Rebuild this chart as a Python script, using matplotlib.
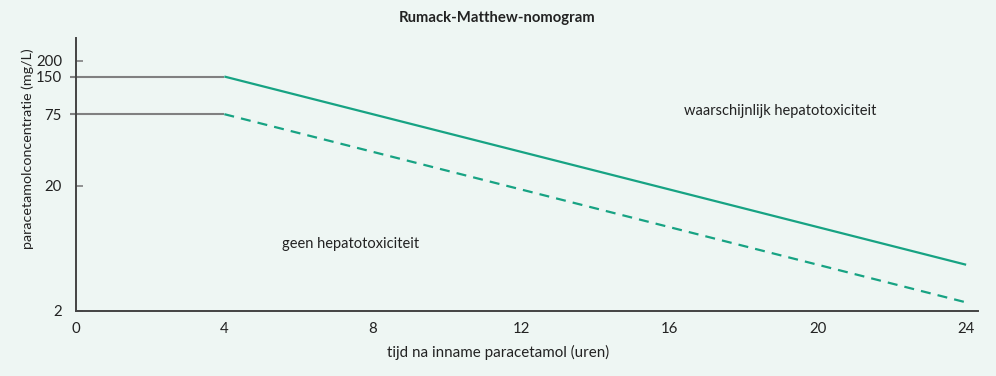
import matplotlib
matplotlib.use("Agg")
import matplotlib.pyplot as plt
import numpy as np

plt.rcParams['font.family'] = ['Lato', 'DejaVu Sans']

# data
hours_line = [4, 24]
high_line = [150, 4.6875]      # solid threshold (half-life 4 h)
low_line = [75, 2.34375]       # dashed threshold
plateau_x = [0, 4]
plateau_high = [150, 150]
plateau_low = [75, 75]
x_ticks = [0, 4, 8, 12, 16, 20, 24]
y_ticks = [2, 20, 75, 150, 200]

bg = '#eef6f3'
green = '#17a383'

fig = plt.figure(figsize=(9.96, 3.76), dpi=100, facecolor=bg)
ax = fig.add_axes([76/996, 1-311/376, (978-76)/996, (311-38)/376], facecolor=bg)
ax.set_yscale('log')
ax.set_xlim(0, 24.32)
ax.set_ylim(2, 305)

ax.plot(plateau_x, plateau_high, color='#808080', lw=1.5, solid_capstyle='butt')
ax.plot(plateau_x, plateau_low, color='#808080', lw=1.5, solid_capstyle='butt')
# small outward stubs at 150 and 75
ax.plot([-0.17, 0], [150, 150], color='#808080', lw=1.5, clip_on=False, solid_capstyle='butt')
ax.plot([-0.17, 0], [75, 75], color='#808080', lw=1.5, clip_on=False, solid_capstyle='butt')

ax.plot(hours_line, high_line, color=green, lw=1.6, solid_capstyle='butt')
ax.plot(hours_line, low_line, color=green, lw=1.6, dashes=(4.5, 3.2))

for s in ['top', 'right']:
    ax.spines[s].set_visible(False)
for s in ['left', 'bottom']:
    ax.spines[s].set_color('#444444')
    ax.spines[s].set_linewidth(1.4)

ax.set_xticks(x_ticks)
ax.set_xticklabels([str(v) for v in x_ticks])
ax.set_yticks(y_ticks)
ax.set_yticklabels([str(v) for v in y_ticks])
ax.yaxis.set_minor_locator(matplotlib.ticker.NullLocator())
ax.tick_params(axis='x', length=0, pad=8, labelsize=10.8, colors='#222222')
ax.tick_params(axis='y', direction='in', length=5, width=1.2, color='#808080',
               pad=10, labelsize=10.8, labelcolor='#222222')

fig.text(497/996, 1-18/376, 'Rumack-Matthew-nomogram', ha='center', va='center',
         fontsize=10.7, fontweight='bold', color='#222222')
fig.text(498/996, 1-352/376, 'tijd na inname paracetamol (uren)', ha='center', va='center',
         fontsize=10.9, color='#222222')
fig.text(28/996, 1-149/376, 'paracetamolconcentratie (mg/L)', ha='center', va='center',
         rotation=90, fontsize=10.3, color='#222222')

ax.text(7.39, 6.87, 'geen hepatotoxiciteit', ha='center', va='center', fontsize=10.5, color='#222222')
ax.text(18.98, 80, 'waarschijnlijk hepatotoxiciteit', ha='center', va='center',
        fontsize=10.5, color='#222222')

fig.savefig('out.png', dpi=100, facecolor=bg)
